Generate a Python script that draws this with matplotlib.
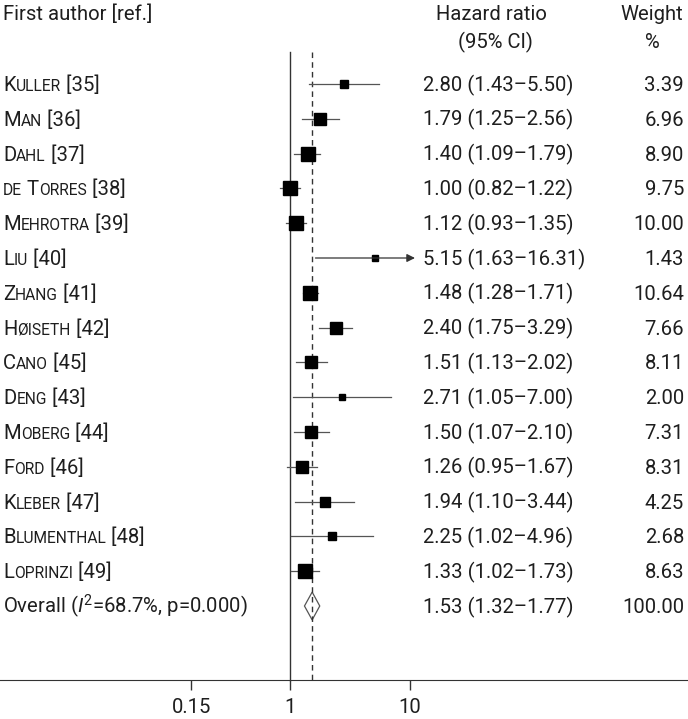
import numpy as np
import matplotlib.pyplot as plt

plt.rcParams['font.family'] = ['Roboto', 'DejaVu Sans']
plt.rcParams['mathtext.fontset'] = 'custom'
plt.rcParams['mathtext.rm'] = 'Roboto'
plt.rcParams['mathtext.it'] = 'Roboto:italic'

names = ['Kuller', 'Man', 'Dahl', 'de Torres', 'Mehrotra', 'Liu', 'Zhang', 'Høiseth',
         'Cano', 'Deng', 'Moberg', 'Ford', 'Kleber', 'Blumenthal', 'Loprinzi']
refs = [35, 36, 37, 38, 39, 40, 41, 42, 45, 43, 44, 46, 47, 48, 49]
hr = [2.80, 1.79, 1.40, 1.00, 1.12, 5.15, 1.48, 2.40, 1.51, 2.71, 1.50, 1.26, 1.94, 2.25, 1.33]
lo = [1.43, 1.25, 1.09, 0.82, 0.93, 1.63, 1.28, 1.75, 1.13, 1.05, 1.07, 0.95, 1.10, 1.02, 1.02]
hi = [5.50, 2.56, 1.79, 1.22, 1.35, 16.31, 1.71, 3.29, 2.02, 7.00, 2.10, 1.67, 3.44, 4.96, 1.73]
weights = [3.39, 6.96, 8.90, 9.75, 10.00, 1.43, 10.64, 7.66, 8.11, 2.00, 7.31, 8.31, 4.25, 2.68, 8.63]
overall = (1.53, 1.32, 1.77)
overall_weight = 100.00
overall_label = r'Overall ($\it{I}^2$=68.7%, p=0.000)'
xticks = [0.15, 1, 10]
xticklabels = ['0.15', '1', '10']
xclip = 11

FS = 14.6
TXT = '#1e1e1e'

fig = plt.figure(figsize=(6.88, 7.19), dpi=100)
ax = fig.add_axes([0, 39 / 719, 1, 680 / 719])
ax.set_xscale('log')
ax.set_xlim(10 ** (-290 / 120), 10 ** (398 / 120))
ytop, ybot = -84 / 34.8, (680 - 84) / 34.8
ax.set_ylim(ybot, ytop)
for s in ['top', 'left', 'right']:
    ax.spines[s].set_visible(False)
ax.spines['bottom'].set_color('#333333')
ax.set_yticks([])
ax.set_xticks(xticks)
ax.set_xticklabels(xticklabels)
ax.minorticks_off()
ax.tick_params(axis='x', length=7, width=1, colors='#333333', labelsize=FS, labelcolor=TXT, pad=6)

renderer = fig.canvas.get_renderer()
tr = ax.get_yaxis_transform()


def smallcaps(x, y, text):
    # capitals/spaces/digits at full size, lowercase drawn as small capitals
    parts = []
    for ch in text:
        small = ch.islower()
        if parts and parts[-1][1] == small:
            parts[-1][0] += ch
        else:
            parts.append([ch, small])
    for s, small in parts:
        t = ax.text(x, y, s.upper() if small else s, transform=tr, va='baseline', ha='left',
                    fontsize=FS * 0.77 if small else FS, color=TXT)
        bb = t.get_window_extent(renderer)
        x += bb.width / ax.bbox.width


n = len(names)
rows = np.arange(n)
base = 0.2

# reference lines
ax.plot([1, 1], [-0.92, ybot], color='#333333', lw=1, clip_on=False)
ax.plot([overall[0]] * 2, [-0.92, ybot], color='#333333', lw=1, ls=(0, (4, 3)), clip_on=False)

for i in range(n):
    y = rows[i]
    if hi[i] > xclip:
        ax.annotate('', xy=(xclip, y), xytext=(lo[i], y),
                    arrowprops=dict(arrowstyle='-|>', color='#333333', lw=0.9,
                                    mutation_scale=12, shrinkA=0, shrinkB=0))
    else:
        ax.plot([lo[i], hi[i]], [y, y], color='#555555', lw=0.9)
    ax.plot(hr[i], y, 's', ms=3.2 * np.sqrt(weights[i]), color='black')
    smallcaps(3 / 688, y + base, f'{names[i]} [{refs[i]}]')
    ax.text(423 / 688, y + base, f'{hr[i]:.2f} ({lo[i]:.2f}\u2013{hi[i]:.2f})', transform=tr,
            va='baseline', ha='left', fontsize=FS, color=TXT)
    ax.text(684 / 688, y + base, f'{weights[i]:.2f}', transform=tr,
            va='baseline', ha='right', fontsize=FS, color=TXT)

# overall
yo = n
ax.fill([overall[1], overall[0], overall[2], overall[0]], [yo, yo - 0.4, yo, yo + 0.4],
        facecolor='none', edgecolor='#555555', lw=0.9)
ax.text(3 / 688, yo + base, overall_label, transform=tr, va='baseline', ha='left',
        fontsize=FS, color=TXT)
ax.text(423 / 688, yo + base, f'{overall[0]:.2f} ({overall[1]:.2f}\u2013{overall[2]:.2f})',
        transform=tr, va='baseline', ha='left', fontsize=FS, color=TXT)
ax.text(684 / 688, yo + base, f'{overall_weight:.2f}', transform=tr,
        va='baseline', ha='right', fontsize=FS, color=TXT)

# headers
ax.text(3 / 688, -2.0, 'First author [ref.]', transform=tr, va='center', ha='left',
        fontsize=FS, color=TXT)
ax.text(491 / 688, -2.0, 'Hazard ratio', transform=tr, va='center', ha='center',
        fontsize=FS, color=TXT)
ax.text(495 / 688, -1.2, '(95% CI)', transform=tr, va='center', ha='center',
        fontsize=FS, color=TXT)
ax.text(652 / 688, -2.0, 'Weight', transform=tr, va='center', ha='center',
        fontsize=FS, color=TXT)
ax.text(652 / 688, -1.2, '%', transform=tr, va='center', ha='center',
        fontsize=FS, color=TXT)

fig.savefig('out.png', dpi=100)
